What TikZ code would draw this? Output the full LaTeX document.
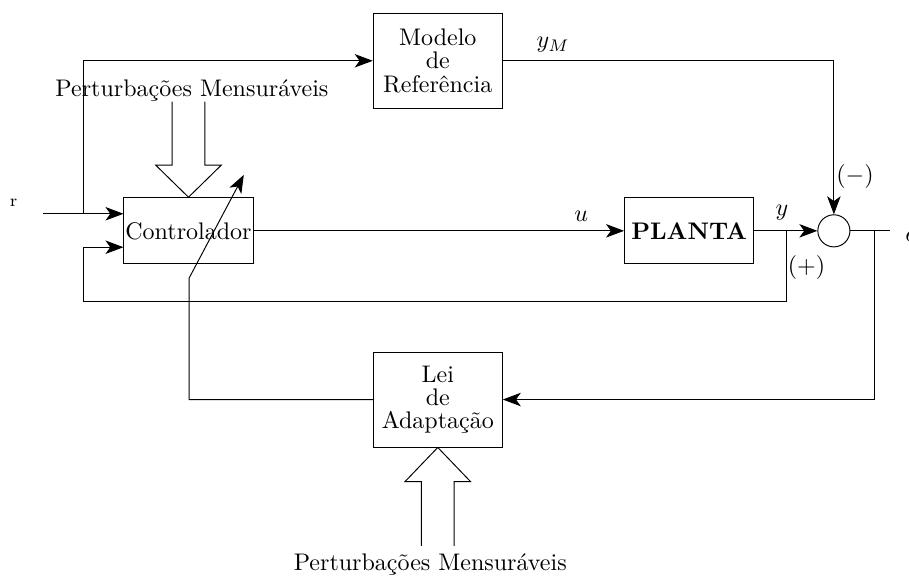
\documentclass[tikz,border=0pt]{standalone}
\usepackage{amsmath}
\usepackage{fontspec}
\usepackage{tikz}
\usetikzlibrary{arrows.meta,positioning,calc}
\tikzset{
  % plain boxed block, text nearly filling the width
  blk/.style  = {rectangle, draw, align=center, inner sep=0pt,
                 minimum width=1.89cm, minimum height=0.97cm,
                 font={\fontsize{10}{9.7}\selectfont}},
  soma/.style = {circle, draw, minimum size=0.47cm, inner sep=0pt},
  arr/.style  = {-{Stealth[length=7.5pt,width=5.6pt,inset=2pt]}},
  lbl/.style  = {inner sep=1pt},
}

\begin{document}
\begin{tikzpicture}[x=1cm,y=1cm]
\useasboundingbox (0,0) rectangle (13.31,8.45);
% blocks
\node[blk] (ctrl)   at (2.76,5.07)  {Controlador};
\node[blk] (planta) at (10.09,5.07) {\textbf{PLANTA}};
\node[blk, minimum height=1.39cm] (modelo) at (6.41,7.56) {Modelo\\de\\Referência};
\node[blk, minimum height=1.39cm] (lei)    at (6.41,2.60) {Lei\\de\\Adaptação};
\node[soma] (soma) at (12.21,5.07) {};
% branch points and free ends
\coordinate (rin)  at (0.63,5.32);
\coordinate (rbr)  at (1.22,5.32);
\coordinate (ybr)  at (11.51,5.07);
\coordinate (fb)   at (1.22,4.03);
\coordinate (ebr)  at (12.80,5.07);
\coordinate (eout) at (13.03,5.07);
\coordinate (adk)  at (2.77,4.38);
\coordinate (adtip) at (3.57,5.89);
% signal paths
\draw[arr] (rin) -- ($(ctrl.west)+(0,0.25)$);
\draw[arr] (rbr) |- (modelo.west);
\draw[arr] (ctrl.east) -- (planta.west);
\draw[arr] (planta.east) -- (soma.west);
\draw[arr] (modelo.east) -| (soma.north);
\draw[arr] (ybr) |- (fb) |- ($(ctrl.west)+(0,-0.24)$);
\draw (soma.east) -- (eout);
\draw[arr] (ebr) |- (lei.east);
\draw[arr] (lei.west) -| (adk) -- (adtip);
% measurable disturbances (hollow arrows)
\draw (ctrl.north) ++(-0.24,1.40) -- ++(0,-0.93) -- ++(-0.24,0) -- (ctrl.north)
      -- ++(0.48,0.47) -- ++(-0.24,0) -- ++(0,0.93);
\draw (lei.south) ++(-0.24,-1.44) -- ++(0,0.94) -- ++(-0.24,0) -- (lei.south)
      -- ++(0.48,-0.50) -- ++(-0.24,0) -- ++(0,-0.94);
\node (pm1) at (2.81,7.13) {Perturbações Mensuráveis};
\node (pm2) at (6.30,0.18) {Perturbações Mensuráveis};
% labels
\node[lbl] (lr)  at (0.20,5.48) {\scriptsize r};
\node[lbl] (lym) at (8.10,7.79) {$y_M$};
\node[lbl] (lu)  at (8.51,5.28) {$u$};
\node[lbl] (ly)  at (11.45,5.34) {$y$};
\node[lbl] (lmn) at (12.52,5.86) {$(-)$};
\node[lbl] (lps) at (11.81,4.54) {$(+)$};
\node[lbl, anchor=west, inner sep=0pt] (le) at (13.25,4.99) {$e$};
\end{tikzpicture}
\end{document}
